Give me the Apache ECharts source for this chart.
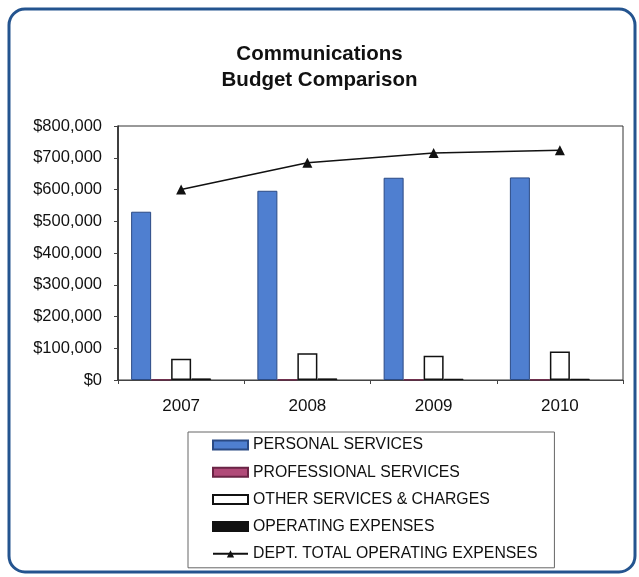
<!DOCTYPE html>
<html>
<head>
<meta charset="utf-8">
<script src="https://cdn.jsdelivr.net/npm/echarts@6/dist/echarts.min.js"></script>
<style>
  html, body { margin: 0; padding: 0; background: #ffffff; }
  #chart { width: 639px; height: 577px; }
</style>
</head>
<body>
<div id="chart"></div>
<script>
// Fiscal years shown on the category axis
const years = ['2007', '2008', '2009', '2010'];

// Budget lines (dollars)
const personalServices     = [530000, 596000, 637000, 638000];
const professionalServices = [1000, 1000, 1000, 1000];
const otherServices        = [67000, 84000, 76000, 90000];
const operatingExpenses    = [5000, 5000, 4000, 4000];
const deptTotal            = [600000, 684000, 715000, 724000];

// Value axis ticks
const yTicks = [0, 100000, 200000, 300000, 400000, 500000, 600000, 700000, 800000];

const seriesNames = [
  'PERSONAL SERVICES',
  'PROFESSIONAL SERVICES',
  'OTHER SERVICES & CHARGES',
  'OPERATING EXPENSES',
  'DEPT. TOTAL OPERATING EXPENSES'
];

const FONT = '"Liberation Sans", Arial, sans-serif';

const chart = echarts.init(document.getElementById('chart'), null, { renderer: 'canvas' });

function money(v) {
  return '$' + Number(v).toLocaleString('en-US');
}

const barBase = { type: 'bar', barWidth: 20, barGap: '0%' };

chart.setOption({
  backgroundColor: '#ffffff',
  animation: false,
  title: {
    text: 'Communications\nBudget Comparison',
    left: 'center',
    top: 36,
    textStyle: {
      fontFamily: FONT, fontSize: 20.5, fontWeight: 'bold',
      color: '#111111', lineHeight: 26
    }
  },
  graphic: [
    {
      type: 'rect',
      shape: { x: 9, y: 9, width: 626, height: 563, r: 16 },
      style: { fill: 'none', stroke: '#24548f', lineWidth: 3 },
      silent: true,
      z: -1
    }
  ],
  grid: {
    left: 118, right: 16, top: 126, bottom: 197,
    show: true, borderColor: '#333333', borderWidth: 1,
    backgroundColor: 'transparent'
  },
  legend: {
    orient: 'vertical',
    left: 188,
    top: 432,
    padding: [5, 17, 6, 24],
    itemWidth: 35,
    itemHeight: 9,
    itemGap: 11.2,
    borderColor: '#666666',
    borderWidth: 1,
    textStyle: { fontFamily: FONT, fontSize: 15.8, color: '#111111' },
    data: [
      { name: seriesNames[0], icon: 'rect' },
      { name: seriesNames[1], icon: 'rect' },
      { name: seriesNames[2], icon: 'rect' },
      { name: seriesNames[3], icon: 'rect' },
      { name: seriesNames[4] }
    ]
  },
  xAxis: {
    type: 'category',
    data: years,
    boundaryGap: true,
    axisLine: { lineStyle: { color: '#444444', width: 1 } },
    axisTick: { show: true, length: 4, alignWithLabel: false, lineStyle: { color: '#444444' } },
    axisLabel: { margin: 18, fontFamily: FONT, fontSize: 17, color: '#111111' },
    splitLine: { show: false }
  },
  yAxis: {
    type: 'value',
    min: yTicks[0],
    max: yTicks[yTicks.length - 1],
    interval: yTicks[1] - yTicks[0],
    axisLine: { show: true, lineStyle: { color: '#222222', width: 1.5 } },
    axisTick: { show: true, length: 4, lineStyle: { color: '#444444' } },
    axisLabel: {
      margin: 16, fontFamily: FONT, fontSize: 16.5, color: '#111111',
      formatter: money
    },
    splitLine: { show: false }
  },
  series: [
    Object.assign({}, barBase, {
      name: seriesNames[0],
      data: personalServices,
      itemStyle: { color: '#4f7fd0', borderColor: '#2b4a84', borderWidth: 1 }
    }),
    Object.assign({}, barBase, {
      name: seriesNames[1],
      data: professionalServices,
      itemStyle: { color: '#b04a78', borderColor: '#6a2445', borderWidth: 1 }
    }),
    Object.assign({}, barBase, {
      name: seriesNames[2],
      data: otherServices,
      itemStyle: { color: '#ffffff', borderColor: '#111111', borderWidth: 1.5 }
    }),
    Object.assign({}, barBase, {
      name: seriesNames[3],
      data: operatingExpenses,
      itemStyle: { color: '#111111', borderColor: '#111111', borderWidth: 1 }
    }),
    // empty slot that keeps the clustered bars left of the category centre
    Object.assign({}, barBase, {
      name: 'slot',
      data: ['-', '-', '-', '-'],
      silent: true
    }),
    {
      type: 'line',
      name: seriesNames[4],
      data: deptTotal,
      symbol: 'triangle',
      symbolSize: 10,
      lineStyle: { color: '#111111', width: 1.5 },
      itemStyle: { color: '#111111' },
      z: 5
    }
  ]
});
</script>
</body>
</html>
